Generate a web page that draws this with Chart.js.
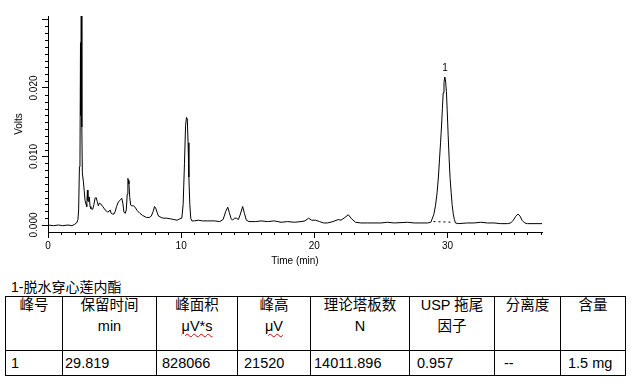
<!DOCTYPE html>
<html>
<head>
<meta charset="utf-8">
<script src="https://cdn.jsdelivr.net/npm/chart.js@4.4.1/dist/chart.umd.min.js"></script>
<style>
  body { margin: 0; background: #fff; width: 636px; height: 388px; position: relative; overflow: hidden;
         font-family: "Liberation Sans", Arial, "Noto Sans CJK SC", sans-serif; color: #000; }
  #chart { position: absolute; left: 0; top: 0; }
  #title { position: absolute; left: 11px; top: 280px; font-size: 14px; line-height: 14px; white-space: nowrap; }
  table { position: absolute; left: 5px; top: 296px; width: 621px; border-collapse: collapse; table-layout: fixed; font-size: 14.5px; }
  td { border: 1px solid #000; padding: 0; white-space: nowrap; }
  tr.head td { height: 53px; vertical-align: top; text-align: center; }
  tr.head .l1 { line-height: 17px; height: 17px; }
  tr.head .l2 { line-height: 17px; height: 17px; margin-top: 4px; }
  tr.row td { height: 24px; vertical-align: middle; line-height: 17px; }
  .sq { text-decoration: underline wavy #e00000; text-decoration-thickness: 1px; text-underline-offset: 2px; }
</style>
</head>
<body>
<canvas id="chart" width="636" height="270"></canvas>
<div id="title"></div>
<table id="resultTable"></table>
<script>
// chromatogram trace
const times = [0, 0.4, 0.8, 1.1, 1.5, 1.8, 2.0, 2.15, 2.25, 2.3, 2.36, 2.4, 2.44, 2.47, 2.5, 2.54, 2.58, 2.66, 2.72, 2.78,
  2.86, 2.91, 2.96, 3.0, 3.06, 3.1, 3.16, 3.22, 3.36, 3.45, 3.53, 3.62, 3.7, 3.78, 3.86, 3.95, 4.11, 4.29, 4.48, 4.6,
  4.66, 4.75, 4.85, 4.96, 5.05, 5.15, 5.29, 5.42, 5.54, 5.62, 5.7, 5.8, 5.88, 5.95, 6.0, 6.04, 6.08, 6.14, 6.21, 6.3,
  6.42, 6.54, 6.7, 6.9, 7.1, 7.4, 7.6, 7.76, 7.9, 8.0, 8.08, 8.2, 8.3, 8.5, 8.65, 8.9, 9.2, 9.45, 9.7, 9.9,
  10.05, 10.15, 10.25, 10.33, 10.4, 10.46, 10.52, 10.58, 10.65, 10.72, 10.8, 11.0, 11.3, 11.6, 12.0, 12.5, 12.9, 13.15, 13.35, 13.5,
  13.62, 13.76, 13.86, 14.0, 14.15, 14.3, 14.45, 14.62, 14.75, 14.9, 15.1, 15.6, 16.0, 16.5, 17.0, 17.5, 18.0, 18.5, 19.0, 19.3,
  19.57, 19.8, 20.1, 20.4, 20.7, 21.0, 21.4, 21.8, 22.0, 22.3, 22.55, 22.8, 23.1, 23.5, 24.0, 25.0, 25.5, 26.0, 27.0, 27.5,
  28.0, 28.5, 28.75, 28.97, 29.1, 29.22, 29.32, 29.4, 29.48, 29.55, 29.62, 29.68, 29.74, 29.8, 29.85, 29.92, 29.98, 30.05, 30.13, 30.2,
  30.28, 30.35, 30.43, 30.52, 30.6, 30.8, 31.5, 32.0, 32.5, 33.0, 33.5, 34.0, 34.5, 34.75, 34.95, 35.1, 35.3, 35.45, 35.6, 35.8,
  36.0, 36.5, 37.1];
const volts = [0.0000, -0.0001, 0.0000, -0.0001, 0.0000, -0.0001, 0.0001, 0.0003, 0.0008, 0.0022, 0.0085, 0.0086, 0.0266, 0.0160, 0.0480, 0.0143, 0.0076, 0.0063, 0.0050, 0.0036,
  0.0030, 0.0027, 0.0051, 0.0036, 0.0034, 0.0041, 0.0027, 0.0024, 0.0023, 0.0030, 0.0039, 0.0040, 0.0034, 0.0028, 0.0032, 0.0031, 0.0027, 0.0022, 0.0019, 0.0020,
  0.0022, 0.0017, 0.0016, 0.0016, 0.0020, 0.0027, 0.0034, 0.0036, 0.0039, 0.0032, 0.0019, 0.0017, 0.0022, 0.0045, 0.0068, 0.0065, 0.0060, 0.0040, 0.0029, 0.0028,
  0.0028, 0.0026, 0.0021, 0.0017, 0.0014, 0.0011, 0.0011, 0.0013, 0.0020, 0.0027, 0.0025, 0.0018, 0.0013, 0.0011, 0.0010, 0.0010, 0.0009, 0.0008, 0.0007, 0.0009,
  0.0010, 0.0030, 0.0090, 0.0145, 0.0157, 0.0155, 0.0120, 0.0070, 0.0030, 0.0010, 0.0006, 0.0006, 0.0007, 0.0006, 0.0006, 0.0006, 0.0005, 0.0008, 0.0020, 0.0026,
  0.0018, 0.0009, 0.0007, 0.0010, 0.0010, 0.0008, 0.0016, 0.0027, 0.0017, 0.0007, 0.0005, 0.0005, 0.0006, 0.0005, 0.0006, 0.0004, 0.0005, 0.0004, 0.0005, 0.0006,
  0.0010, 0.0007, 0.0007, 0.0005, 0.0003, 0.0003, 0.0005, 0.0008, 0.0007, 0.0011, 0.0015, 0.0009, 0.0004, 0.0003, 0.0003, 0.0003, 0.0004, 0.0003, 0.0004, 0.0003,
  0.0003, 0.0003, 0.0004, 0.0015, 0.0028, 0.0047, 0.0070, 0.0095, 0.0120, 0.0143, 0.0170, 0.0193, 0.0208, 0.0216, 0.0212, 0.0195, 0.0168, 0.0132, 0.0095, 0.0068,
  0.0047, 0.0030, 0.0017, 0.0008, 0.0003, 0.0002, 0.0003, 0.0003, 0.0004, 0.0003, 0.0003, 0.0002, 0.0002, 0.0003, 0.0007, 0.0012, 0.0016, 0.0013, 0.0007, 0.0003,
  0.0002, 0.0002, 0.0002];

// integration baseline under peak 1
const baseTimes = [28.95, 30.45];
const baseVolts = [0.0005, 0.0004];

const peakNames = ["1"];
const peakTimes = [29.819];
const peakHeights = [0.02152];

const xTickValues = [0, 10, 20, 30];
const yTickValues = [0, 0.01, 0.02, 0.03];
const yTickLabels = ["0.000", "0.010", "0.020", ""];

const tableTitle = "1-脱水穿心莲内酯";
const headLine1 = ["峰号", "保留时间", "峰面积", "峰高", "理论塔板数", "USP 拖尾", "分离度", "含量"];
const headLine2 = ["", "min", "μV*s", "μV", "N", "因子", "", ""];
const rowValues = ["1", "29.819", "828066", "21520", "14011.896", "0.957", "--", "1.5 mg"];

// layout of the table
const colWidths = [57, 94, 81, 73, 99, 85, 66, 65];
const cellPad = [5, 2, 5, 6, 3, 7, 9, 7];

document.getElementById("title").textContent = tableTitle;
const resultTable = document.getElementById("resultTable");
let html = "<colgroup>" + colWidths.map((w) => `<col style="width:${w}px">`).join("") + "</colgroup>";
html += '<tr class="head">' + headLine1.map((h, i) => {
  const second = headLine2[i].startsWith("μ") ? `<span class="sq">${headLine2[i]}</span>` : headLine2[i];
  return `<td><div class="l1">${h}</div><div class="l2">${second}</div></td>`;
}).join("") + "</tr>";
html += '<tr class="row">' + rowValues.map((v, i) => `<td style="padding-left:${cellPad[i]}px">${v}</td>`).join("") + "</tr>";
resultTable.innerHTML = html;

const minorTicks = {
  id: "minorTicks",
  afterDraw(chart) {
    const { ctx, chartArea: a, scales: { x, y } } = chart;
    ctx.save();
    ctx.strokeStyle = "#000";
    ctx.lineWidth = 1;
    ctx.beginPath();
    for (let t = 1; t < x.max; t++) {
      if (t % 10 === 0) continue;
      const px = Math.round(x.getPixelForValue(t)) + 0.5;
      ctx.moveTo(px, a.bottom);
      ctx.lineTo(px, a.bottom + 3);
    }
    for (let i = 1; i <= 30; i++) {
      if (i % 10 === 0) continue;
      const py = Math.round(y.getPixelForValue(i / 1000)) + 0.5;
      ctx.moveTo(a.left - 3, py);
      ctx.lineTo(a.left, py);
    }
    ctx.stroke();
    ctx.restore();
  },
};

const peakLabels = {
  id: "peakLabels",
  afterDatasetsDraw(chart) {
    const { ctx, scales: { x, y } } = chart;
    ctx.save();
    ctx.fillStyle = "#000";
    ctx.font = "10px 'Liberation Sans', Arial";
    ctx.textAlign = "center";
    ctx.textBaseline = "bottom";
    peakNames.forEach((name, i) => {
      ctx.fillText(name, x.getPixelForValue(peakTimes[i]), y.getPixelForValue(peakHeights[i]) - 4);
    });
    ctx.restore();
  },
};

const font = { family: "'Liberation Sans', Arial", size: 10 };

new Chart(document.getElementById("chart"), {
  type: "line",
  data: {
    datasets: [
      {
        data: times.map((t, i) => ({ x: t, y: volts[i] })),
        borderColor: "#000",
        borderWidth: 1,
        pointRadius: 0,
        tension: 0,
      },
      {
        data: baseTimes.map((t, i) => ({ x: t, y: baseVolts[i] })),
        borderColor: "#000",
        borderWidth: 1,
        borderDash: [2, 3],
        pointRadius: 0,
      },
    ],
  },
  options: {
    responsive: false,
    animation: false,
    events: [],
    layout: { padding: { top: 16, right: 94, left: 0, bottom: 0 } },
    plugins: { legend: { display: false }, tooltip: { enabled: false } },
    scales: {
      x: {
        type: "linear",
        min: 0,
        max: 37.1,
        afterFit: (s) => { s.height = 38; },
        afterBuildTicks: (s) => { s.ticks = xTickValues.map((v) => ({ value: v })); },
        grid: { drawOnChartArea: false, tickLength: 6, color: "#000" },
        border: { color: "#000" },
        ticks: { color: "#000", font, padding: 2, maxRotation: 0, callback: (v) => String(v) },
        title: { display: true, text: "Time (min)", color: "#000", font, padding: { top: 0, bottom: 3 } },
      },
      y: {
        min: -0.00102,
        max: 0.0305,
        afterFit: (s) => { s.width = 48; },
        afterBuildTicks: (s) => { s.ticks = yTickValues.map((v) => ({ value: v })); },
        grid: { drawOnChartArea: false, tickLength: 6, color: "#000" },
        border: { color: "#000" },
        ticks: {
          color: "#000", font, minRotation: 90, maxRotation: 90, crossAlign: "center", padding: -4.5,
          callback: (v, i) => yTickLabels[i],
        },
        title: { display: true, text: "Volts", color: "#000", font, padding: { top: 13, bottom: 0 } },
      },
    },
  },
  plugins: [minorTicks, peakLabels],
});
</script>
</body>
</html>
